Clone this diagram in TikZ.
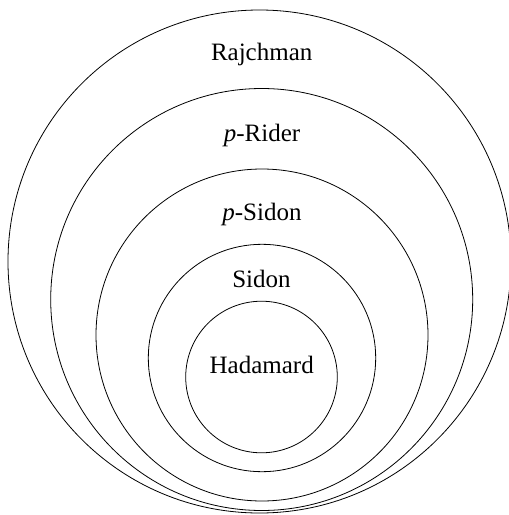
\documentclass[tikz,border=0pt]{standalone}
\usepackage{fontspec}
\setmainfont{Liberation Serif}
\begin{document}
\begin{tikzpicture}[x=1pt,y=-1pt,
  ring/.style={draw=black,line width=0.8pt},
  lbl/.style={anchor=base,inner sep=0pt,font=\fontsize{25}{30}\selectfont}]
\useasboundingbox (0,0) rectangle (509,515);
\draw[ring] (259.5,261.5) circle[radius=251.5];
\draw[ring] (261.7,299.5) circle[radius=211];
\draw[ring] (262,335) circle[radius=166];
\draw[ring] (262,358) circle[radius=113.7];
\draw[ring] (261.5,377) circle[radius=75.8];
\node[lbl] (raj) at (261.7,60) {Rajchman};
\node[lbl] (prider) at (262,141) {\textit{p}-Rider};
\node[lbl] (psidon) at (262,220) {\textit{p}-Sidon};
\node[lbl] (sidon) at (261.5,287) {Sidon};
\node[lbl] (had) at (261.7,373) {Hadamard};
\end{tikzpicture}
\end{document}
